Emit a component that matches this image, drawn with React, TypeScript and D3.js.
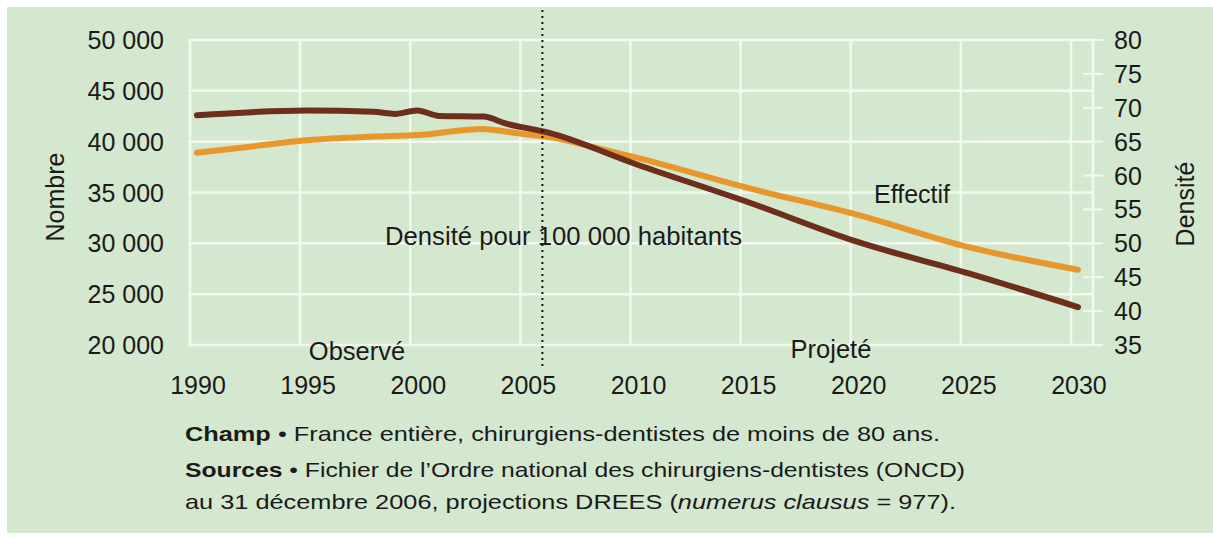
import React from "react";
import * as d3 from "d3";

const effectifYears = [1990, 1992, 1995, 1998, 2000, 2003, 2004, 2005, 2006, 2008, 2010, 2015, 2020, 2025, 2030];
const effectifValues = [38900, 39400, 40150, 40500, 40650, 41250, 41000, 40700, 40450, 39450, 38400, 35450, 32800, 29650, 27400];

const densiteYears = [1990, 1995, 1998, 1999, 2000, 2001, 2003, 2004, 2006, 2010, 2015, 2020, 2025, 2030];
const densiteValues = [68.9, 69.6, 69.4, 69.1, 69.6, 68.8, 68.7, 67.7, 66.3, 61.6, 56.1, 50.2, 45.6, 40.6];

const leftTicks = [20000, 25000, 30000, 35000, 40000, 45000, 50000];
const rightTicks = [35, 40, 45, 50, 55, 60, 65, 70, 75, 80];
const yearTicks = [1990, 1995, 2000, 2005, 2010, 2015, 2020, 2025, 2030];

const W = 1213;
const H = 540;
const FONT = "'Liberation Sans', Arial, sans-serif";
const BG = "#d4e8cf";
const GRID = "#f2f9ee";
const ORANGE = "#e8972c";
const BROWN = "#6d2e1b";
const INK = "#1a1a1a";

export default function App() {
  const xGrid = d3.scaleLinear().domain([1990, 2031]).range([190, 1093]);
  const xData = (yr: number) => xGrid(yr) + 7;
  const yL = d3.scaleLinear().domain([20000, 50000]).range([345, 40]);
  const yR = d3.scaleLinear().domain([35, 80]).range([345, 40]);

  const lineL = d3
    .line<number>()
    .x((_, i) => xData(effectifYears[i]))
    .y((d) => yL(d))
    .curve(d3.curveMonotoneX);
  const lineR = d3
    .line<number>()
    .x((_, i) => xData(densiteYears[i]))
    .y((d) => yR(d))
    .curve(d3.curveMonotoneX);

  const fmt = (v: number) => d3.format(",")(v).replace(",", " ");

  return (
    <svg
      width={W}
      height={H}
      style={{ position: "absolute", left: 0, top: 0, display: "block" }}
      fontFamily={FONT}
    >
      <rect x={0} y={0} width={W} height={H} fill="#ffffff" />
      <rect x={7} y={7} width={W - 7} height={526} fill={BG} />

      {leftTicks.map((t) => (
        <line key={"h" + t} x1={188} x2={1093} y1={yL(t)} y2={yL(t)} stroke={GRID} strokeWidth={2.5} />
      ))}
      {yearTicks.map((t) => (
        <line key={"v" + t} x1={xGrid(t)} x2={xGrid(t)} y1={40} y2={345} stroke={GRID} strokeWidth={2.5} />
      ))}
      <line x1={xGrid(2031)} x2={xGrid(2031)} y1={40} y2={345} stroke={GRID} strokeWidth={2.5} />
      {rightTicks.map((t) => (
        <line key={"r" + t} x1={1083} x2={1103} y1={yR(t)} y2={yR(t)} stroke={GRID} strokeWidth={2} />
      ))}

      {leftTicks.map((t) => (
        <text key={"lt" + t} x={164} y={yL(t) + 9} fontSize={25} textAnchor="end" fill={INK}>
          {fmt(t)}
        </text>
      ))}
      {rightTicks.map((t) => (
        <text key={"rt" + t} x={1114} y={yR(t) + 9} fontSize={25} textAnchor="start" fill={INK}>
          {t}
        </text>
      ))}
      {yearTicks.map((t) => (
        <text key={"xt" + t} x={xData(t) + 1} y={394} fontSize={25} textAnchor="middle" fill={INK}>
          {t}
        </text>
      ))}

      <text transform="translate(64,197) rotate(-90)" fontSize={25} textAnchor="middle" fill={INK}>
        Nombre
      </text>
      <text transform="translate(1194,204) rotate(-90)" fontSize={25} textAnchor="middle" fill={INK}>
        Densité
      </text>

      <path d={lineL(effectifValues) || ""} fill="none" stroke={ORANGE} strokeWidth={6} strokeLinecap="round" strokeLinejoin="round" />
      <path d={lineR(densiteValues) || ""} fill="none" stroke={BROWN} strokeWidth={6} strokeLinecap="round" strokeLinejoin="round" />

      <line x1={xGrid(2006)} x2={xGrid(2006)} y1={10} y2={366} stroke="#111" strokeWidth={2} strokeDasharray="2,4" />

      <text x={357} y={360} fontSize={25.5} textAnchor="middle" fill={INK}>Observé</text>
      <text x={831} y={358} fontSize={25.5} textAnchor="middle" fill={INK}>Projeté</text>
      <text x={912} y={203} fontSize={25} textAnchor="middle" fill={INK}>Effectif</text>
      <text x={385} y={245} fontSize={25.5} textAnchor="start" fill={INK} textLength={357} lengthAdjust="spacingAndGlyphs">
        Densité pour 100 000 habitants
      </text>

      <text x={185} y={441} fontSize={21} fill={INK} textLength={755} lengthAdjust="spacingAndGlyphs">
        <tspan fontWeight="bold">Champ</tspan>
        <tspan> • France entière, chirurgiens-dentistes de moins de 80 ans.</tspan>
      </text>
      <text x={185} y={477} fontSize={21} fill={INK} textLength={780} lengthAdjust="spacingAndGlyphs">
        <tspan fontWeight="bold">Sources</tspan>
        <tspan> • Fichier de l’Ordre national des chirurgiens-dentistes (ONCD)</tspan>
      </text>
      <text x={185} y={509} fontSize={21} fill={INK} textLength={771} lengthAdjust="spacingAndGlyphs">
        <tspan>au 31 décembre 2006, projections DREES (</tspan>
        <tspan fontStyle="italic">numerus clausus</tspan>
        <tspan> = 977).</tspan>
      </text>
    </svg>
  );
}
